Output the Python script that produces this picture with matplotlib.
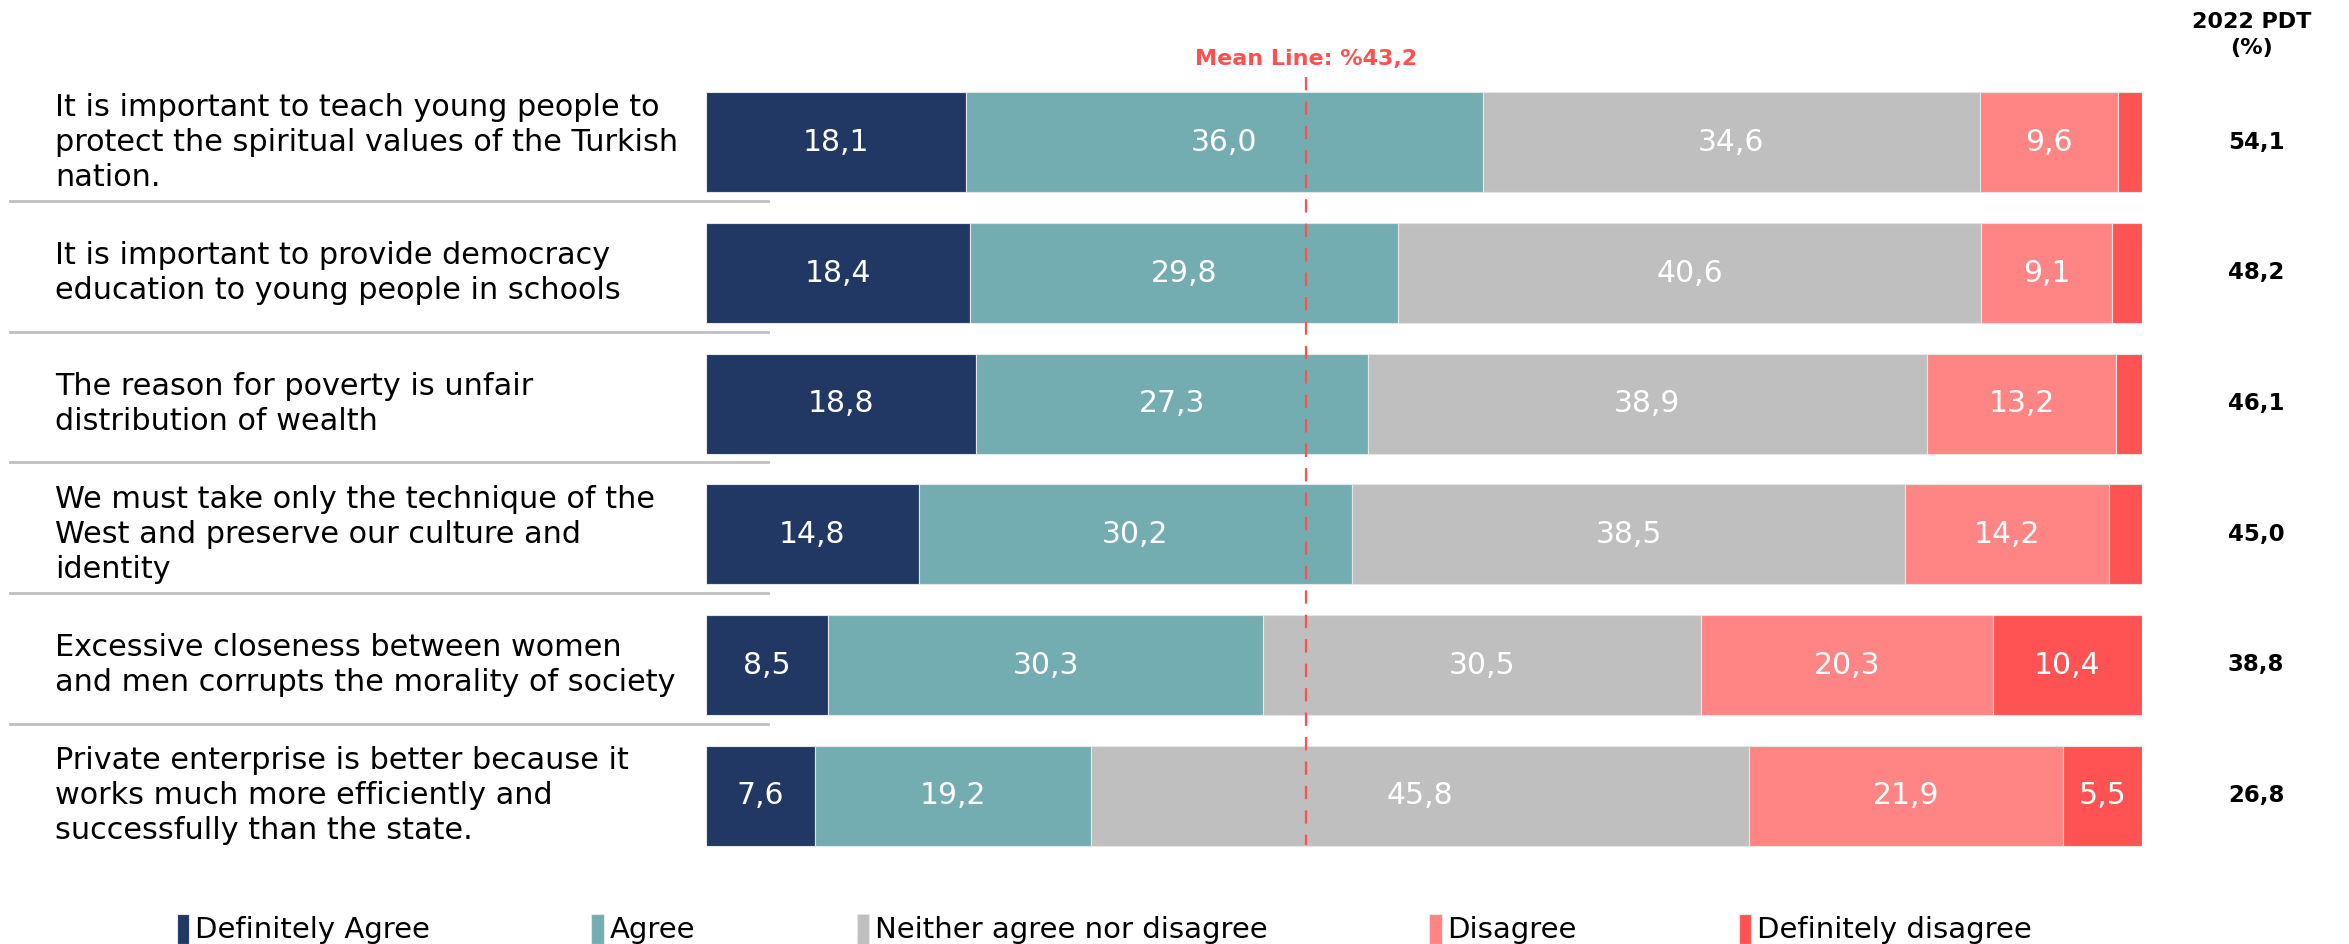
import numpy as np
import matplotlib
matplotlib.use("Agg")
import matplotlib.pyplot as plt
from matplotlib.lines import Line2D

# --- data -------------------------------------------------------------
statements = [
    "It is important to teach young people to\nprotect the spiritual values of the Turkish\nnation.",
    "It is important to provide democracy\neducation to young people in schools",
    "The reason for poverty is unfair\ndistribution of wealth",
    "We must take only the technique of the\nWest and preserve our culture and\nidentity",
    "Excessive closeness between women\nand men corrupts the morality of society",
    "Private enterprise is better because it\nworks much more efficiently and\nsuccessfully than the state.",
]
categories = ["Definitely Agree", "Agree", "Neither agree nor disagree",
              "Disagree", "Definitely disagree"]
definitely_agree = [18.1, 18.4, 18.8, 14.8, 8.5, 7.6]
agree = [36.0, 29.8, 27.3, 30.2, 30.3, 19.2]
neither = [34.6, 40.6, 38.9, 38.5, 30.5, 45.8]
disagree = [9.6, 9.1, 13.2, 14.2, 20.3, 21.9]
definitely_disagree = [1.7, 2.1, 1.8, 2.3, 10.4, 5.5]
pdt_2022 = [54.1, 48.2, 46.1, 45.0, 38.8, 26.8]
mean_label = 43.2
mean_line_pos = 41.8  # where the dashed line sits in the source chart

colors = ["#213864", "#74ADB1", "#BFBFBF", "#FF8585", "#FF5252"]
series = [definitely_agree, agree, neither, disagree, definitely_disagree]


def fmt(v):
    return f"{v:.1f}".replace(".", ",")


W, H = 2349, 944
fig = plt.figure(figsize=(W / 100, H / 100), dpi=100)
ax = fig.add_axes([706 / W, 1 - 861 / H, 1436 / W, (861 - 77) / H])

y = np.arange(len(statements))
left = np.zeros(len(statements))
handles = []
for vals, col, name in zip(series, colors, categories):
    vals = np.array(vals)
    bars = ax.barh(y, vals, left=left, height=0.763, color=col,
                   edgecolor="#E6E6E6", linewidth=0.8, label=name)
    for b, v, l in zip(bars, vals, left):
        if v >= 3:
            ax.text(l + v / 2, b.get_y() + b.get_height() / 2, fmt(v),
                    ha="center", va="center", color="white", fontsize=21.5)
    left += vals
    handles.append(bars)

ax.set_xlim(0, 100)
ax.set_ylim(len(statements) - 0.5, -0.5)
ax.axis("off")

# mean line
ax.plot([mean_line_pos, mean_line_pos], [-0.5, len(statements) - 1 + 0.38],
        color="#FF5050", lw=1.6, ls=(0, (6, 5)), zorder=5)
ax.text(mean_line_pos, -0.64, f"Mean Line: %{fmt(mean_label)}", ha="center",
        va="center", color="#FF5050", fontsize=16, fontweight="bold")

# left labels and separators
for i, s in enumerate(statements):
    yy = ax.transData.transform((0, i))[1]
    fig.text(55 / W, yy / H, s, ha="left", va="center", fontsize=21.8,
             color="black", linespacing=1.25)
    if i < len(statements) - 1:
        ys = ax.transData.transform((0, i + 0.45))[1] / H
        fig.add_artist(Line2D([10 / W, 768 / W], [ys, ys], color="#C0C0C0",
                              lw=2, transform=fig.transFigure, zorder=0))

# right column
fig.text(2252 / W, 1 - 35 / H, "2022 PDT\n(%)", ha="center", va="center",
         fontsize=16, fontweight="bold", linespacing=1.35)
for i, v in enumerate(pdt_2022):
    yy = ax.transData.transform((0, i))[1]
    fig.text(2256 / W, yy / H, fmt(v), ha="center", va="center",
             fontsize=16.5, fontweight="bold")

fig.legend(handles=handles, labels=categories, loc="center",
           bbox_to_anchor=(0.470, 1 - 929 / H), ncol=5, frameon=False,
           fontsize=21, handlelength=0.42, handleheight=1.2,
           handletextpad=0.2, columnspacing=5.55)

fig.savefig("out.png", dpi=100, facecolor="white")
